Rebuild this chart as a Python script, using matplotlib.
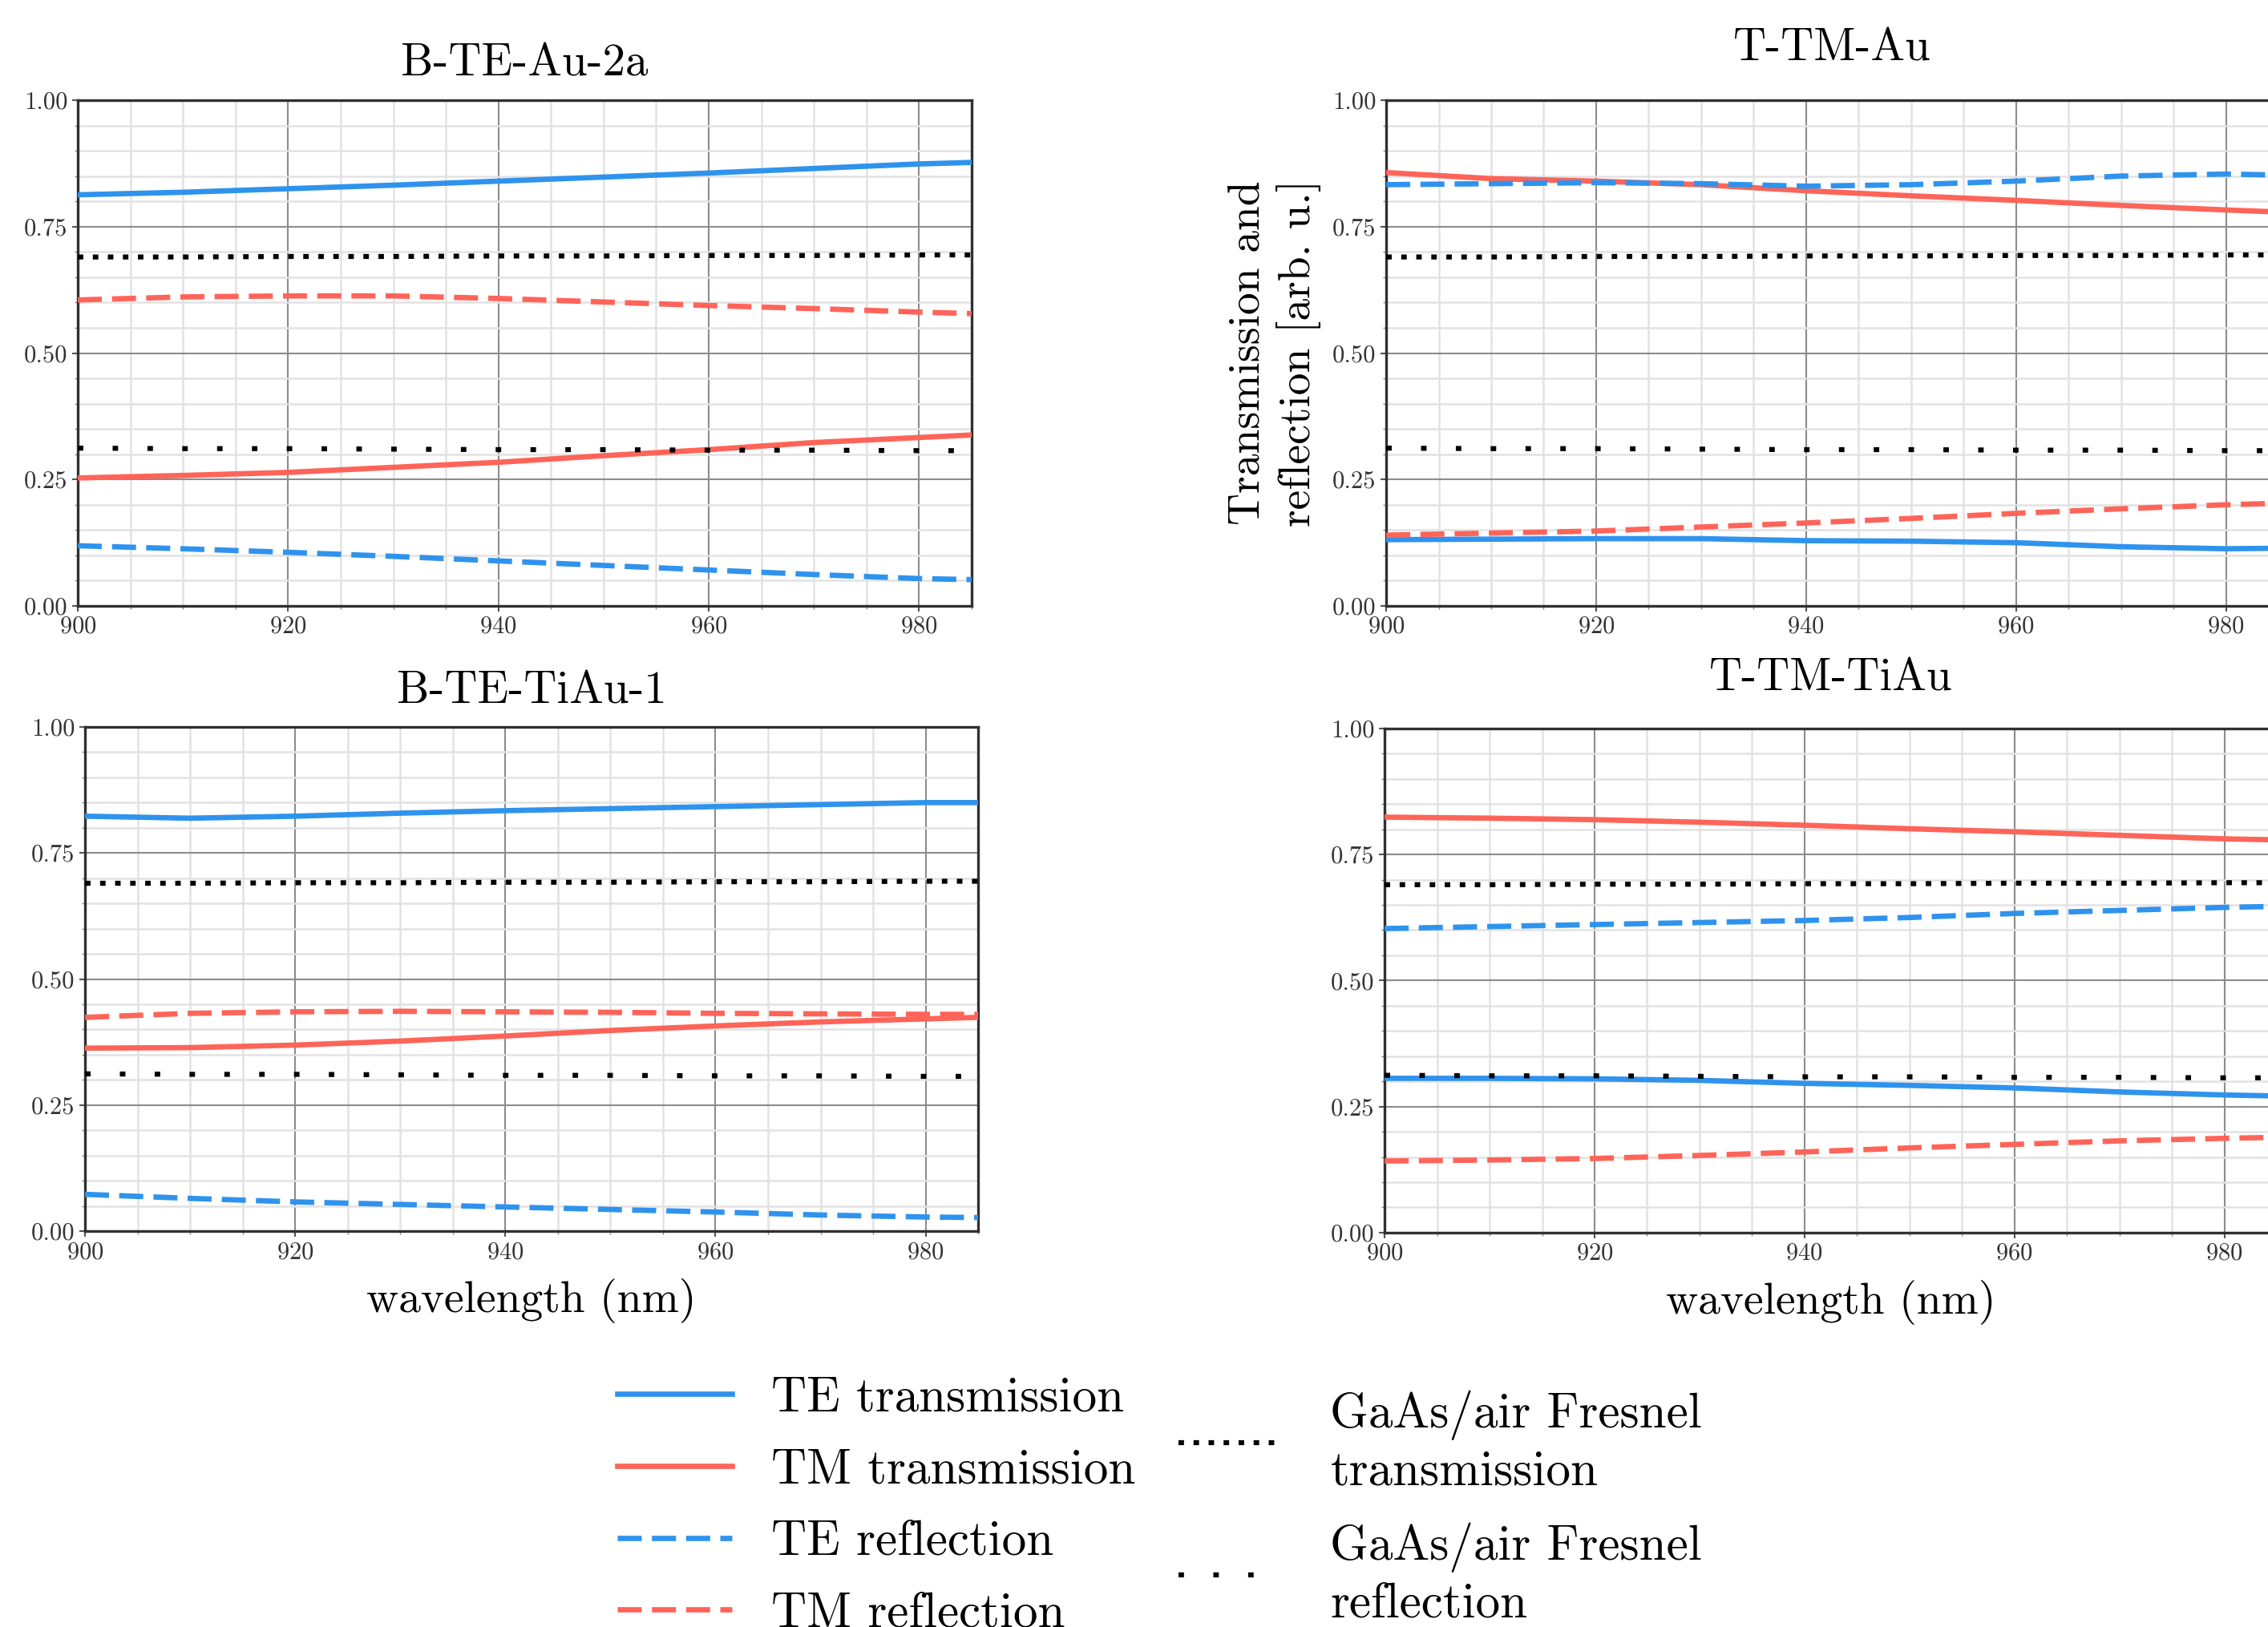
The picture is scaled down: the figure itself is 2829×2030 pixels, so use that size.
import matplotlib
matplotlib.use('Agg')
import matplotlib.pyplot as plt
from matplotlib.ticker import MultipleLocator, FormatStrFormatter

# ── Dados ────────────────────────────────────────────────────────────────────
wl = [900, 910, 920, 930, 940, 950, 960, 970, 980, 985]

titulos = ['B-TE-Au-2a', 'T-TM-Au', 'B-TE-TiAu-1', 'T-TM-TiAu']

# B-TE-Au-2a
te_t_1 = [0.813, 0.818, 0.825, 0.832, 0.840, 0.848, 0.856, 0.865, 0.874, 0.877]
tm_t_1 = [0.253, 0.258, 0.264, 0.274, 0.284, 0.297, 0.309, 0.323, 0.333, 0.338]
te_r_1 = [0.119, 0.113, 0.106, 0.098, 0.089, 0.080, 0.071, 0.062, 0.054, 0.052]
tm_r_1 = [0.605, 0.611, 0.613, 0.613, 0.608, 0.601, 0.594, 0.588, 0.581, 0.578]

# T-TM-Au
te_t_2 = [0.131, 0.132, 0.133, 0.133, 0.129, 0.128, 0.125, 0.117, 0.113, 0.114]
tm_t_2 = [0.857, 0.845, 0.840, 0.833, 0.821, 0.811, 0.802, 0.792, 0.783, 0.779]
te_r_2 = [0.833, 0.835, 0.837, 0.835, 0.830, 0.833, 0.840, 0.850, 0.854, 0.852]
tm_r_2 = [0.140, 0.144, 0.148, 0.156, 0.164, 0.173, 0.183, 0.192, 0.200, 0.203]

# B-TE-TiAu-1
te_t_3 = [0.823, 0.819, 0.823, 0.829, 0.834, 0.838, 0.842, 0.846, 0.850, 0.850]
tm_t_3 = [0.363, 0.364, 0.369, 0.377, 0.387, 0.398, 0.407, 0.415, 0.421, 0.424]
te_r_3 = [0.073, 0.065, 0.058, 0.053, 0.048, 0.043, 0.038, 0.032, 0.028, 0.027]
tm_r_3 = [0.424, 0.432, 0.435, 0.436, 0.435, 0.434, 0.432, 0.431, 0.430, 0.430]

# T-TM-TiAu
te_t_4 = [0.306, 0.306, 0.305, 0.302, 0.296, 0.292, 0.287, 0.279, 0.273, 0.271]
tm_t_4 = [0.824, 0.822, 0.819, 0.814, 0.808, 0.801, 0.795, 0.788, 0.781, 0.779]
te_r_4 = [0.603, 0.607, 0.611, 0.615, 0.619, 0.625, 0.633, 0.639, 0.645, 0.647]
tm_r_4 = [0.142, 0.144, 0.147, 0.153, 0.160, 0.168, 0.175, 0.182, 0.187, 0.189]

# Fresnel GaAs/ar (igual em todos os painéis)
fresnel_t = [0.690, 0.690, 0.691, 0.691, 0.692, 0.692, 0.693, 0.693, 0.694, 0.694]
fresnel_r = [0.312, 0.311, 0.311, 0.310, 0.309, 0.309, 0.308, 0.308, 0.307, 0.307]

series = [
    (te_t_1, tm_t_1, te_r_1, tm_r_1),
    (te_t_2, tm_t_2, te_r_2, tm_r_2),
    (te_t_3, tm_t_3, te_r_3, tm_r_3),
    (te_t_4, tm_t_4, te_r_4, tm_r_4),
]

# ── Estilo ───────────────────────────────────────────────────────────────────
plt.rcParams['font.family'] = 'serif'
plt.rcParams['font.serif'] = ['cmr10', 'DejaVu Serif']
plt.rcParams['axes.formatter.use_mathtext'] = True

AZUL = '#2f93ee'
VERM = '#ff6459'
LW = 4.8
TRACO = (0, (4.5, 1.9))
PONTO_DENSO = (0, (1.1, 1.9))
PONTO_ESPARSO = (0, (1.1, 5.85))

# posições dos eixos (fração da figura)
caixas = [
    [0.0343, 0.6276, 0.3941, 0.3108],
    [0.6112, 0.6276, 0.3934, 0.3108],
    [0.0375, 0.2433, 0.3938, 0.3099],
    [0.6105, 0.2424, 0.3934, 0.3099],
]
pads_titulo = [22, 36, 21, 34]

fig = plt.figure(figsize=(28.29, 20.30), dpi=100)

eixos = []
for i, (caixa, titulo) in enumerate(zip(caixas, titulos)):
    ax = fig.add_axes(caixa)
    te_t, tm_t, te_r, tm_r = series[i]
    ax.plot(wl, te_t, color=AZUL, lw=LW, label='TE transmission', zorder=3)
    ax.plot(wl, tm_t, color=VERM, lw=LW, label='TM transmission', zorder=3)
    ax.plot(wl, te_r, color=AZUL, lw=LW, ls=TRACO, label='TE reflection', zorder=3)
    ax.plot(wl, tm_r, color=VERM, lw=LW, ls=TRACO, label='TM reflection', zorder=3)
    ax.plot(wl, fresnel_t, color='black', lw=4.5, ls=PONTO_DENSO,
            label='GaAs/air Fresnel\ntransmission', zorder=3)
    ax.plot(wl, fresnel_r, color='black', lw=4.5, ls=PONTO_ESPARSO,
            label='GaAs/air Fresnel\nreflection', zorder=3)

    ax.set_xlim(900, 985)
    ax.set_ylim(0, 1)
    ax.xaxis.set_major_locator(MultipleLocator(20))
    ax.xaxis.set_minor_locator(MultipleLocator(5))
    ax.yaxis.set_major_locator(MultipleLocator(0.25))
    ax.yaxis.set_minor_locator(MultipleLocator(0.05))
    ax.yaxis.set_major_formatter(FormatStrFormatter('%.2f'))
    ax.grid(which='major', color='#8c8c8c', lw=1.5, zorder=1)
    ax.grid(which='minor', color='#e2e2e2', lw=1.8, zorder=0)
    ax.set_axisbelow(True)
    for sp in ax.spines.values():
        sp.set_color('#303030')
        sp.set_linewidth(2.4)
    ax.tick_params(which='major', length=5, width=1.5, color='#555555',
                   labelsize=22, labelcolor='#333333', pad=4)
    ax.tick_params(which='minor', length=3, width=1.0, color='#888888')
    ax.set_title(titulo, fontsize=41, pad=pads_titulo[i])
    eixos.append(ax)

eixos[1].set_ylabel('Transmission and\nreflection [arb. u.]', fontsize=40,
                    labelpad=10, linespacing=1.25)
eixos[2].set_xlabel('wavelength (nm)', fontsize=40, labelpad=14)
eixos[3].set_xlabel('wavelength (nm)', fontsize=40, labelpad=14)

# ── Legendas ─────────────────────────────────────────────────────────────────
linhas = eixos[0].get_lines()
fig.legend(linhas[:4], [l.get_label() for l in linhas[:4]],
           loc='upper left', bbox_to_anchor=(0.2722, 0.154),
           fontsize=44, frameon=False, borderpad=0, borderaxespad=0,
           handlelength=2.34, handletextpad=0.8, labelspacing=0.56)
leg2 = fig.legend(linhas[4:], [l.get_label() for l in linhas[4:]],
                  loc='upper left', bbox_to_anchor=(0.5196, 0.1458),
                  fontsize=44, frameon=False, borderpad=0, borderaxespad=0,
                  handlelength=2.0, handletextpad=1.1, labelspacing=0.56)
for t in leg2.get_texts():
    t.set_linespacing(1.3)

fig.savefig('out.png', dpi=100)
